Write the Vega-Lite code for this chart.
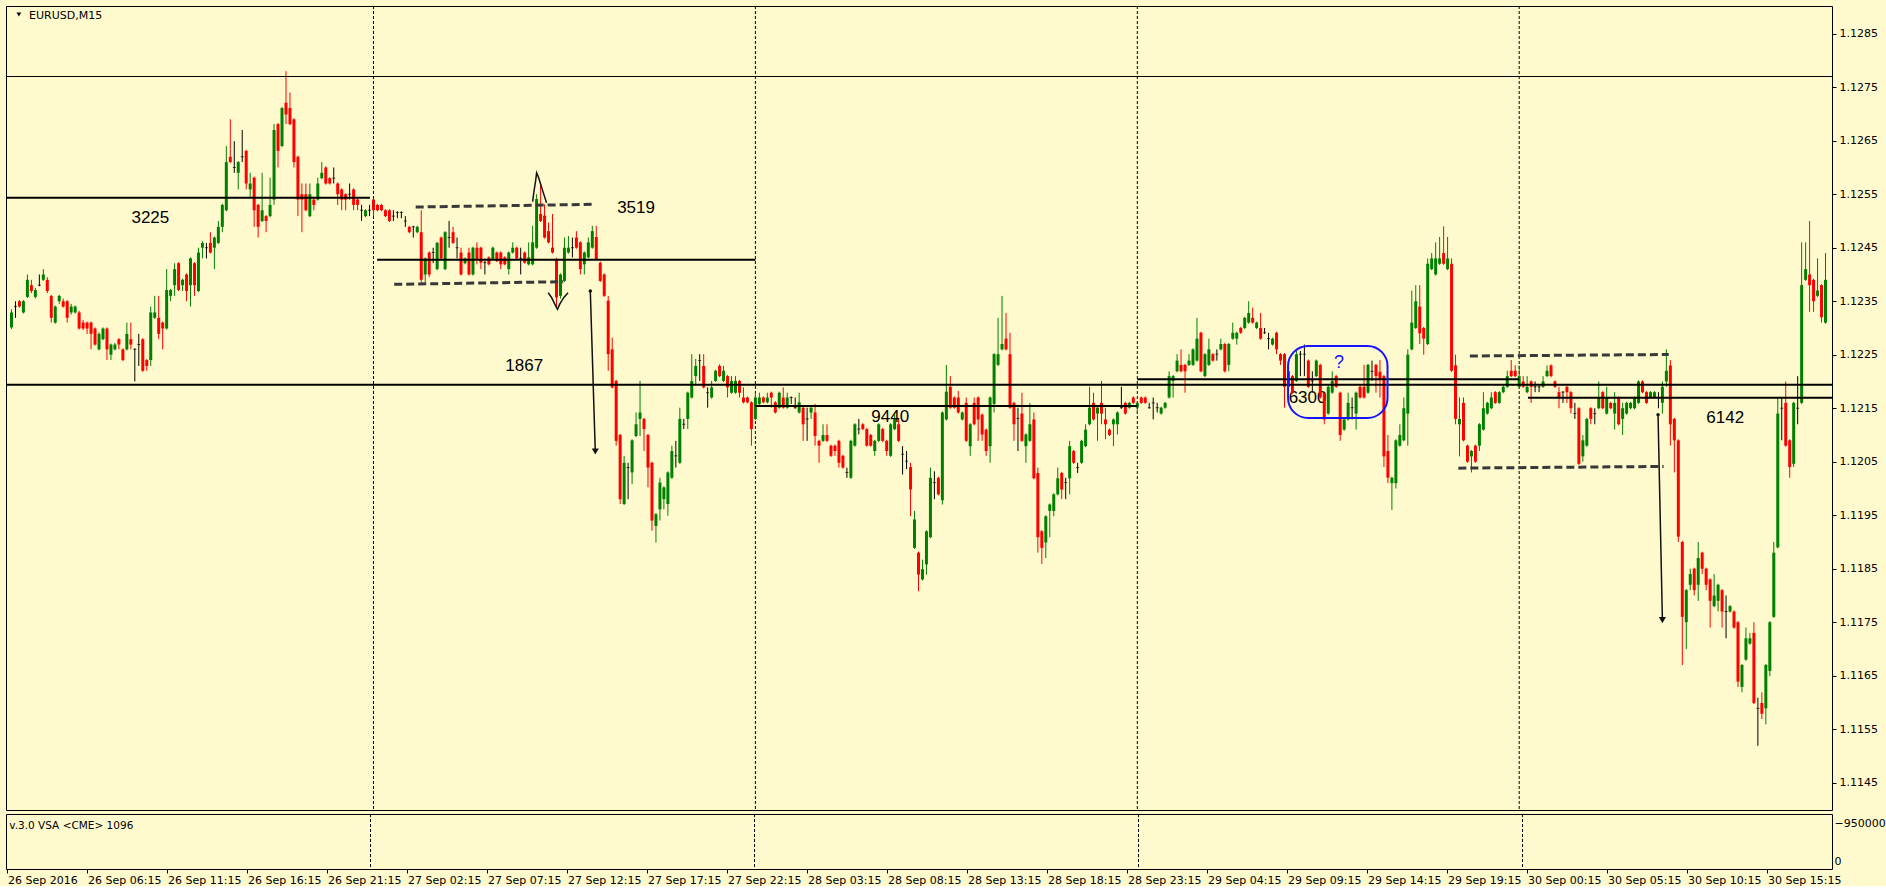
{
"$schema": "https://vega.github.io/schema/vega-lite/v6.json",
"background": "#FFFACD",
"padding": {"left": 5, "top": 5, "right": 0, "bottom": 0},
"autosize": {"type": "pad"},
"spacing": 2,
"config": {
  "view": {"stroke": "#000000", "strokeWidth": 1},
  "font": "DejaVu Sans",
  "axis": {"labelFont": "DejaVu Sans", "labelFontSize": 11, "labelColor": "#000000", "tickColor": "#000000", "domain": false, "grid": false}
},
"datasets": {
"bars": [
{"i":0,"o":1.12301,"h":1.12335,"l":1.12298,"c":1.12329},
{"i":1,"o":1.12340,"h":1.12350,"l":1.12319,"c":1.12340},
{"i":2,"o":1.12350,"h":1.12352,"l":1.12338,"c":1.12340},
{"i":3,"o":1.12329,"h":1.12352,"l":1.12327,"c":1.12350},
{"i":4,"o":1.12358,"h":1.12400,"l":1.12356,"c":1.12390},
{"i":5,"o":1.12380,"h":1.12390,"l":1.12365,"c":1.12369},
{"i":6,"o":1.12358,"h":1.12375,"l":1.12355,"c":1.12371},
{"i":7,"o":1.12380,"h":1.12400,"l":1.12378,"c":1.12380},
{"i":8,"o":1.12390,"h":1.12410,"l":1.12388,"c":1.12400},
{"i":9,"o":1.12390,"h":1.12395,"l":1.12365,"c":1.12369},
{"i":10,"o":1.12360,"h":1.12362,"l":1.12310,"c":1.12319},
{"i":11,"o":1.12310,"h":1.12342,"l":1.12308,"c":1.12340},
{"i":12,"o":1.12350,"h":1.12362,"l":1.12345,"c":1.12360},
{"i":13,"o":1.12350,"h":1.12355,"l":1.12338,"c":1.12340},
{"i":14,"o":1.12350,"h":1.12352,"l":1.12310,"c":1.12319},
{"i":15,"o":1.12329,"h":1.12345,"l":1.12325,"c":1.12340},
{"i":16,"o":1.12329,"h":1.12342,"l":1.12327,"c":1.12340},
{"i":17,"o":1.12329,"h":1.12332,"l":1.12297,"c":1.12299},
{"i":18,"o":1.12310,"h":1.12315,"l":1.12296,"c":1.12299},
{"i":19,"o":1.12310,"h":1.12312,"l":1.12289,"c":1.12299},
{"i":20,"o":1.12310,"h":1.12312,"l":1.12260,"c":1.12289},
{"i":21,"o":1.12299,"h":1.12301,"l":1.12267,"c":1.12269},
{"i":22,"o":1.12260,"h":1.12292,"l":1.12258,"c":1.12289},
{"i":23,"o":1.12279,"h":1.12301,"l":1.12277,"c":1.12299},
{"i":24,"o":1.12299,"h":1.12301,"l":1.12240,"c":1.12260},
{"i":25,"o":1.12250,"h":1.12271,"l":1.12240,"c":1.12269},
{"i":26,"o":1.12260,"h":1.12272,"l":1.12258,"c":1.12269},
{"i":27,"o":1.12279,"h":1.12281,"l":1.12260,"c":1.12269},
{"i":28,"o":1.12260,"h":1.12262,"l":1.12238,"c":1.12240},
{"i":29,"o":1.12260,"h":1.12310,"l":1.12258,"c":1.12289},
{"i":30,"o":1.12279,"h":1.12310,"l":1.12260,"c":1.12269},
{"i":31,"o":1.12260,"h":1.12262,"l":1.12200,"c":1.12260},
{"i":32,"o":1.12269,"h":1.12289,"l":1.12229,"c":1.12269},
{"i":33,"o":1.12279,"h":1.12281,"l":1.12218,"c":1.12220},
{"i":34,"o":1.12240,"h":1.12242,"l":1.12220,"c":1.12229},
{"i":35,"o":1.12240,"h":1.12340,"l":1.12229,"c":1.12329},
{"i":36,"o":1.12319,"h":1.12360,"l":1.12317,"c":1.12329},
{"i":37,"o":1.12319,"h":1.12360,"l":1.12279,"c":1.12289},
{"i":38,"o":1.12310,"h":1.12312,"l":1.12260,"c":1.12299},
{"i":39,"o":1.12299,"h":1.12410,"l":1.12297,"c":1.12371},
{"i":40,"o":1.12360,"h":1.12373,"l":1.12350,"c":1.12371},
{"i":41,"o":1.12380,"h":1.12421,"l":1.12360,"c":1.12410},
{"i":42,"o":1.12421,"h":1.12423,"l":1.12369,"c":1.12371},
{"i":43,"o":1.12380,"h":1.12392,"l":1.12369,"c":1.12390},
{"i":44,"o":1.12400,"h":1.12402,"l":1.12350,"c":1.12369},
{"i":45,"o":1.12380,"h":1.12432,"l":1.12340,"c":1.12430},
{"i":46,"o":1.12421,"h":1.12423,"l":1.12360,"c":1.12380},
{"i":47,"o":1.12369,"h":1.12450,"l":1.12367,"c":1.12441},
{"i":48,"o":1.12450,"h":1.12462,"l":1.12430,"c":1.12459},
{"i":49,"o":1.12450,"h":1.12459,"l":1.12430,"c":1.12450},
{"i":50,"o":1.12459,"h":1.12479,"l":1.12439,"c":1.12441},
{"i":51,"o":1.12450,"h":1.12471,"l":1.12410,"c":1.12469},
{"i":52,"o":1.12459,"h":1.12500,"l":1.12457,"c":1.12489},
{"i":53,"o":1.12489,"h":1.12532,"l":1.12479,"c":1.12530},
{"i":54,"o":1.12520,"h":1.12640,"l":1.12518,"c":1.12610},
{"i":55,"o":1.12620,"h":1.12690,"l":1.12608,"c":1.12610},
{"i":56,"o":1.12600,"h":1.12649,"l":1.12590,"c":1.12600},
{"i":57,"o":1.12590,"h":1.12612,"l":1.12559,"c":1.12610},
{"i":58,"o":1.12620,"h":1.12670,"l":1.12610,"c":1.12620},
{"i":59,"o":1.12631,"h":1.12633,"l":1.12559,"c":1.12570},
{"i":60,"o":1.12559,"h":1.12590,"l":1.12544,"c":1.12570},
{"i":61,"o":1.12581,"h":1.12583,"l":1.12489,"c":1.12520},
{"i":62,"o":1.12530,"h":1.12532,"l":1.12469,"c":1.12489},
{"i":63,"o":1.12500,"h":1.12590,"l":1.12498,"c":1.12520},
{"i":64,"o":1.12509,"h":1.12511,"l":1.12479,"c":1.12500},
{"i":65,"o":1.12509,"h":1.12581,"l":1.12507,"c":1.12530},
{"i":66,"o":1.12540,"h":1.12681,"l":1.12530,"c":1.12670},
{"i":67,"o":1.12681,"h":1.12683,"l":1.12600,"c":1.12631},
{"i":68,"o":1.12640,"h":1.12713,"l":1.12638,"c":1.12711},
{"i":69,"o":1.12721,"h":1.12780,"l":1.12681,"c":1.12699},
{"i":70,"o":1.12711,"h":1.12740,"l":1.12679,"c":1.12681},
{"i":71,"o":1.12690,"h":1.12692,"l":1.12600,"c":1.12610},
{"i":72,"o":1.12620,"h":1.12622,"l":1.12509,"c":1.12540},
{"i":73,"o":1.12550,"h":1.12570,"l":1.12479,"c":1.12540},
{"i":74,"o":1.12550,"h":1.12570,"l":1.12518,"c":1.12520},
{"i":75,"o":1.12509,"h":1.12570,"l":1.12507,"c":1.12550},
{"i":76,"o":1.12540,"h":1.12545,"l":1.12520,"c":1.12530},
{"i":77,"o":1.12540,"h":1.12581,"l":1.12538,"c":1.12570},
{"i":78,"o":1.12580,"h":1.12610,"l":1.12578,"c":1.12590},
{"i":79,"o":1.12600,"h":1.12602,"l":1.12568,"c":1.12570},
{"i":80,"o":1.12580,"h":1.12582,"l":1.12568,"c":1.12570},
{"i":81,"o":1.12580,"h":1.12600,"l":1.12570,"c":1.12580},
{"i":82,"o":1.12570,"h":1.12572,"l":1.12530,"c":1.12550},
{"i":83,"o":1.12559,"h":1.12561,"l":1.12520,"c":1.12540},
{"i":84,"o":1.12550,"h":1.12552,"l":1.12520,"c":1.12540},
{"i":85,"o":1.12550,"h":1.12570,"l":1.12540,"c":1.12550},
{"i":86,"o":1.12559,"h":1.12561,"l":1.12520,"c":1.12530},
{"i":87,"o":1.12540,"h":1.12542,"l":1.12520,"c":1.12530},
{"i":88,"o":1.12520,"h":1.12530,"l":1.12500,"c":1.12520},
{"i":89,"o":1.12509,"h":1.12522,"l":1.12507,"c":1.12520},
{"i":90,"o":1.12520,"h":1.12530,"l":1.12509,"c":1.12520},
{"i":91,"o":1.12540,"h":1.12542,"l":1.12509,"c":1.12520},
{"i":92,"o":1.12530,"h":1.12532,"l":1.12518,"c":1.12520},
{"i":93,"o":1.12530,"h":1.12532,"l":1.12518,"c":1.12520},
{"i":94,"o":1.12520,"h":1.12522,"l":1.12507,"c":1.12509},
{"i":95,"o":1.12520,"h":1.12522,"l":1.12498,"c":1.12500},
{"i":96,"o":1.12509,"h":1.12520,"l":1.12500,"c":1.12509},
{"i":97,"o":1.12516,"h":1.12518,"l":1.12505,"c":1.12516},
{"i":98,"o":1.12516,"h":1.12518,"l":1.12505,"c":1.12516},
{"i":99,"o":1.12500,"h":1.12509,"l":1.12489,"c":1.12500},
{"i":100,"o":1.12489,"h":1.12491,"l":1.12477,"c":1.12479},
{"i":101,"o":1.12489,"h":1.12491,"l":1.12469,"c":1.12489},
{"i":102,"o":1.12479,"h":1.12491,"l":1.12477,"c":1.12489},
{"i":103,"o":1.12479,"h":1.12520,"l":1.12385,"c":1.12390},
{"i":104,"o":1.12400,"h":1.12432,"l":1.12385,"c":1.12430},
{"i":105,"o":1.12441,"h":1.12443,"l":1.12395,"c":1.12400},
{"i":106,"o":1.12441,"h":1.12450,"l":1.12421,"c":1.12441},
{"i":107,"o":1.12410,"h":1.12461,"l":1.12408,"c":1.12459},
{"i":108,"o":1.12469,"h":1.12471,"l":1.12428,"c":1.12430},
{"i":109,"o":1.12410,"h":1.12481,"l":1.12408,"c":1.12479},
{"i":110,"o":1.12469,"h":1.12500,"l":1.12450,"c":1.12469},
{"i":111,"o":1.12479,"h":1.12489,"l":1.12457,"c":1.12459},
{"i":112,"o":1.12450,"h":1.12469,"l":1.12430,"c":1.12450},
{"i":113,"o":1.12441,"h":1.12450,"l":1.12398,"c":1.12400},
{"i":114,"o":1.12421,"h":1.12432,"l":1.12419,"c":1.12430},
{"i":115,"o":1.12441,"h":1.12450,"l":1.12398,"c":1.12400},
{"i":116,"o":1.12400,"h":1.12452,"l":1.12398,"c":1.12450},
{"i":117,"o":1.12450,"h":1.12460,"l":1.12419,"c":1.12429},
{"i":118,"o":1.12450,"h":1.12452,"l":1.12410,"c":1.12422},
{"i":119,"o":1.12422,"h":1.12430,"l":1.12400,"c":1.12422},
{"i":120,"o":1.12432,"h":1.12434,"l":1.12417,"c":1.12419},
{"i":121,"o":1.12429,"h":1.12452,"l":1.12427,"c":1.12450},
{"i":122,"o":1.12441,"h":1.12443,"l":1.12423,"c":1.12425},
{"i":123,"o":1.12441,"h":1.12443,"l":1.12410,"c":1.12419},
{"i":124,"o":1.12432,"h":1.12434,"l":1.12417,"c":1.12419},
{"i":125,"o":1.12410,"h":1.12443,"l":1.12400,"c":1.12441},
{"i":126,"o":1.12441,"h":1.12460,"l":1.12439,"c":1.12450},
{"i":127,"o":1.12450,"h":1.12452,"l":1.12428,"c":1.12430},
{"i":128,"o":1.12430,"h":1.12450,"l":1.12400,"c":1.12430},
{"i":129,"o":1.12441,"h":1.12443,"l":1.12420,"c":1.12422},
{"i":130,"o":1.12419,"h":1.12460,"l":1.12417,"c":1.12432},
{"i":131,"o":1.12419,"h":1.12491,"l":1.12417,"c":1.12460},
{"i":132,"o":1.12450,"h":1.12550,"l":1.12448,"c":1.12541},
{"i":133,"o":1.12513,"h":1.12569,"l":1.12498,"c":1.12500},
{"i":134,"o":1.12510,"h":1.12531,"l":1.12467,"c":1.12469},
{"i":135,"o":1.12481,"h":1.12497,"l":1.12458,"c":1.12460},
{"i":136,"o":1.12450,"h":1.12513,"l":1.12439,"c":1.12441},
{"i":137,"o":1.12429,"h":1.12431,"l":1.12338,"c":1.12357},
{"i":138,"o":1.12360,"h":1.12402,"l":1.12355,"c":1.12400},
{"i":139,"o":1.12388,"h":1.12469,"l":1.12386,"c":1.12450},
{"i":140,"o":1.12441,"h":1.12472,"l":1.12439,"c":1.12450},
{"i":141,"o":1.12450,"h":1.12469,"l":1.12432,"c":1.12450},
{"i":142,"o":1.12469,"h":1.12481,"l":1.12448,"c":1.12450},
{"i":143,"o":1.12460,"h":1.12462,"l":1.12400,"c":1.12410},
{"i":144,"o":1.12419,"h":1.12443,"l":1.12400,"c":1.12441},
{"i":145,"o":1.12432,"h":1.12469,"l":1.12430,"c":1.12460},
{"i":146,"o":1.12450,"h":1.12491,"l":1.12448,"c":1.12481},
{"i":147,"o":1.12470,"h":1.12491,"l":1.12427,"c":1.12429},
{"i":148,"o":1.12422,"h":1.12424,"l":1.12386,"c":1.12388},
{"i":149,"o":1.12400,"h":1.12402,"l":1.12358,"c":1.12360},
{"i":150,"o":1.12351,"h":1.12360,"l":1.12220,"c":1.12251},
{"i":151,"o":1.12260,"h":1.12282,"l":1.12187,"c":1.12189},
{"i":152,"o":1.12201,"h":1.12203,"l":1.12080,"c":1.12089},
{"i":153,"o":1.12100,"h":1.12102,"l":1.11971,"c":1.11980},
{"i":154,"o":1.11971,"h":1.12061,"l":1.11969,"c":1.12048},
{"i":155,"o":1.12039,"h":1.12048,"l":1.11980,"c":1.12039},
{"i":156,"o":1.12030,"h":1.12092,"l":1.12008,"c":1.12090},
{"i":157,"o":1.12098,"h":1.12142,"l":1.12096,"c":1.12120},
{"i":158,"o":1.12130,"h":1.12201,"l":1.12098,"c":1.12142},
{"i":159,"o":1.12130,"h":1.12132,"l":1.12070,"c":1.12111},
{"i":160,"o":1.12100,"h":1.12102,"l":1.12002,"c":1.12039},
{"i":161,"o":1.12048,"h":1.12050,"l":1.11921,"c":1.11940},
{"i":162,"o":1.11930,"h":1.11954,"l":1.11899,"c":1.11952},
{"i":163,"o":1.11961,"h":1.12020,"l":1.11940,"c":1.12011},
{"i":164,"o":1.11980,"h":1.12004,"l":1.11961,"c":1.12002},
{"i":165,"o":1.11971,"h":1.12032,"l":1.11949,"c":1.12030},
{"i":166,"o":1.12020,"h":1.12080,"l":1.12018,"c":1.12070},
{"i":167,"o":1.12061,"h":1.12089,"l":1.12039,"c":1.12061},
{"i":168,"o":1.12048,"h":1.12151,"l":1.12046,"c":1.12130},
{"i":169,"o":1.12120,"h":1.12130,"l":1.12111,"c":1.12120},
{"i":170,"o":1.12130,"h":1.12181,"l":1.12111,"c":1.12179},
{"i":171,"o":1.12170,"h":1.12251,"l":1.12168,"c":1.12201},
{"i":172,"o":1.12210,"h":1.12242,"l":1.12195,"c":1.12229},
{"i":173,"o":1.12239,"h":1.12251,"l":1.12201,"c":1.12239},
{"i":174,"o":1.12229,"h":1.12251,"l":1.12187,"c":1.12189},
{"i":175,"o":1.12179,"h":1.12189,"l":1.12151,"c":1.12179},
{"i":176,"o":1.12170,"h":1.12201,"l":1.12168,"c":1.12189},
{"i":177,"o":1.12201,"h":1.12222,"l":1.12199,"c":1.12220},
{"i":178,"o":1.12229,"h":1.12232,"l":1.12208,"c":1.12210},
{"i":179,"o":1.12201,"h":1.12229,"l":1.12199,"c":1.12220},
{"i":180,"o":1.12210,"h":1.12212,"l":1.12170,"c":1.12189},
{"i":181,"o":1.12179,"h":1.12210,"l":1.12177,"c":1.12201},
{"i":182,"o":1.12179,"h":1.12210,"l":1.12177,"c":1.12201},
{"i":183,"o":1.12201,"h":1.12203,"l":1.12170,"c":1.12179},
{"i":184,"o":1.12170,"h":1.12189,"l":1.12159,"c":1.12161},
{"i":185,"o":1.12170,"h":1.12172,"l":1.12159,"c":1.12161},
{"i":186,"o":1.12161,"h":1.12163,"l":1.12080,"c":1.12111},
{"i":187,"o":1.12130,"h":1.12179,"l":1.12128,"c":1.12170},
{"i":188,"o":1.12158,"h":1.12179,"l":1.12156,"c":1.12170},
{"i":189,"o":1.12170,"h":1.12172,"l":1.12159,"c":1.12161},
{"i":190,"o":1.12161,"h":1.12179,"l":1.12159,"c":1.12170},
{"i":191,"o":1.12179,"h":1.12181,"l":1.12151,"c":1.12170},
{"i":192,"o":1.12161,"h":1.12163,"l":1.12140,"c":1.12142},
{"i":193,"o":1.12151,"h":1.12181,"l":1.12149,"c":1.12179},
{"i":194,"o":1.12170,"h":1.12189,"l":1.12149,"c":1.12151},
{"i":195,"o":1.12151,"h":1.12179,"l":1.12149,"c":1.12170},
{"i":196,"o":1.12170,"h":1.12172,"l":1.12158,"c":1.12170},
{"i":197,"o":1.12151,"h":1.12170,"l":1.12149,"c":1.12151},
{"i":198,"o":1.12142,"h":1.12179,"l":1.12140,"c":1.12161},
{"i":199,"o":1.12151,"h":1.12153,"l":1.12089,"c":1.12120},
{"i":200,"o":1.12130,"h":1.12151,"l":1.12089,"c":1.12130},
{"i":201,"o":1.12142,"h":1.12153,"l":1.12130,"c":1.12151},
{"i":202,"o":1.12142,"h":1.12158,"l":1.12080,"c":1.12098},
{"i":203,"o":1.12089,"h":1.12091,"l":1.12048,"c":1.12080},
{"i":204,"o":1.12089,"h":1.12120,"l":1.12087,"c":1.12100},
{"i":205,"o":1.12100,"h":1.12120,"l":1.12087,"c":1.12089},
{"i":206,"o":1.12080,"h":1.12082,"l":1.12059,"c":1.12061},
{"i":207,"o":1.12080,"h":1.12082,"l":1.12061,"c":1.12070},
{"i":208,"o":1.12089,"h":1.12091,"l":1.12039,"c":1.12048},
{"i":209,"o":1.12061,"h":1.12063,"l":1.12037,"c":1.12039},
{"i":210,"o":1.12030,"h":1.12039,"l":1.12020,"c":1.12030},
{"i":211,"o":1.12020,"h":1.12091,"l":1.12018,"c":1.12089},
{"i":212,"o":1.12080,"h":1.12122,"l":1.12078,"c":1.12120},
{"i":213,"o":1.12111,"h":1.12130,"l":1.12101,"c":1.12111},
{"i":214,"o":1.12120,"h":1.12122,"l":1.12109,"c":1.12111},
{"i":215,"o":1.12111,"h":1.12113,"l":1.12078,"c":1.12080},
{"i":216,"o":1.12100,"h":1.12102,"l":1.12078,"c":1.12080},
{"i":217,"o":1.12070,"h":1.12091,"l":1.12061,"c":1.12089},
{"i":218,"o":1.12089,"h":1.12122,"l":1.12087,"c":1.12120},
{"i":219,"o":1.12111,"h":1.12113,"l":1.12087,"c":1.12089},
{"i":220,"o":1.12089,"h":1.12091,"l":1.12061,"c":1.12070},
{"i":221,"o":1.12061,"h":1.12122,"l":1.12059,"c":1.12120},
{"i":222,"o":1.12111,"h":1.12142,"l":1.12109,"c":1.12130},
{"i":223,"o":1.12120,"h":1.12130,"l":1.12087,"c":1.12089},
{"i":224,"o":1.12064,"h":1.12079,"l":1.12026,"c":1.12064},
{"i":225,"o":1.12051,"h":1.12070,"l":1.12036,"c":1.12051},
{"i":226,"o":1.12040,"h":1.12048,"l":1.11948,"c":1.11998},
{"i":227,"o":1.11889,"h":1.11958,"l":1.11887,"c":1.11942},
{"i":228,"o":1.11880,"h":1.11882,"l":1.11808,"c":1.11839},
{"i":229,"o":1.11830,"h":1.11867,"l":1.11828,"c":1.11849},
{"i":230,"o":1.11858,"h":1.11922,"l":1.11839,"c":1.11920},
{"i":231,"o":1.11909,"h":1.12039,"l":1.11907,"c":1.12020},
{"i":232,"o":1.12011,"h":1.12032,"l":1.11980,"c":1.12011},
{"i":233,"o":1.12020,"h":1.12022,"l":1.11987,"c":1.11989},
{"i":234,"o":1.11978,"h":1.12144,"l":1.11970,"c":1.12142},
{"i":235,"o":1.12129,"h":1.12231,"l":1.12127,"c":1.12181},
{"i":236,"o":1.12190,"h":1.12210,"l":1.12149,"c":1.12151},
{"i":237,"o":1.12170,"h":1.12172,"l":1.12149,"c":1.12151},
{"i":238,"o":1.12170,"h":1.12182,"l":1.12140,"c":1.12142},
{"i":239,"o":1.12129,"h":1.12144,"l":1.12127,"c":1.12142},
{"i":240,"o":1.12160,"h":1.12170,"l":1.12087,"c":1.12089},
{"i":241,"o":1.12079,"h":1.12122,"l":1.12061,"c":1.12120},
{"i":242,"o":1.12160,"h":1.12170,"l":1.12118,"c":1.12120},
{"i":243,"o":1.12170,"h":1.12172,"l":1.12089,"c":1.12129},
{"i":244,"o":1.12138,"h":1.12140,"l":1.12089,"c":1.12101},
{"i":245,"o":1.12110,"h":1.12112,"l":1.12061,"c":1.12070},
{"i":246,"o":1.12079,"h":1.12172,"l":1.12048,"c":1.12170},
{"i":247,"o":1.12158,"h":1.12253,"l":1.12142,"c":1.12251},
{"i":248,"o":1.12231,"h":1.12319,"l":1.12229,"c":1.12251},
{"i":249,"o":1.12260,"h":1.12360,"l":1.12258,"c":1.12270},
{"i":250,"o":1.12280,"h":1.12328,"l":1.12258,"c":1.12260},
{"i":251,"o":1.12251,"h":1.12291,"l":1.12149,"c":1.12151},
{"i":252,"o":1.12160,"h":1.12162,"l":1.12089,"c":1.12120},
{"i":253,"o":1.12131,"h":1.12151,"l":1.12070,"c":1.12131},
{"i":254,"o":1.12140,"h":1.12179,"l":1.12087,"c":1.12089},
{"i":255,"o":1.12079,"h":1.12103,"l":1.12048,"c":1.12101},
{"i":256,"o":1.12089,"h":1.12160,"l":1.12087,"c":1.12120},
{"i":257,"o":1.12129,"h":1.12142,"l":1.12017,"c":1.12019},
{"i":258,"o":1.12029,"h":1.12039,"l":1.11880,"c":1.11909},
{"i":259,"o":1.11920,"h":1.11922,"l":1.11859,"c":1.11889},
{"i":260,"o":1.11899,"h":1.11950,"l":1.11870,"c":1.11948},
{"i":261,"o":1.11958,"h":1.11972,"l":1.11909,"c":1.11970},
{"i":262,"o":1.11958,"h":1.11991,"l":1.11948,"c":1.11989},
{"i":263,"o":1.11989,"h":1.12039,"l":1.11987,"c":1.12019},
{"i":264,"o":1.12029,"h":1.12031,"l":1.11980,"c":1.11998},
{"i":265,"o":1.12011,"h":1.12020,"l":1.11980,"c":1.12011},
{"i":266,"o":1.12019,"h":1.12089,"l":1.11989,"c":1.12079},
{"i":267,"o":1.12070,"h":1.12072,"l":1.12046,"c":1.12048},
{"i":268,"o":1.12039,"h":1.12048,"l":1.12029,"c":1.12039},
{"i":269,"o":1.12048,"h":1.12091,"l":1.12046,"c":1.12089},
{"i":270,"o":1.12079,"h":1.12120,"l":1.12077,"c":1.12110},
{"i":271,"o":1.12120,"h":1.12190,"l":1.12118,"c":1.12151},
{"i":272,"o":1.12160,"h":1.12179,"l":1.12127,"c":1.12129},
{"i":273,"o":1.12140,"h":1.12153,"l":1.12089,"c":1.12151},
{"i":274,"o":1.12160,"h":1.12201,"l":1.12120,"c":1.12140},
{"i":275,"o":1.12129,"h":1.12151,"l":1.12092,"c":1.12120},
{"i":276,"o":1.12110,"h":1.12112,"l":1.12098,"c":1.12100},
{"i":277,"o":1.12120,"h":1.12131,"l":1.12079,"c":1.12129},
{"i":278,"o":1.12120,"h":1.12144,"l":1.12101,"c":1.12142},
{"i":279,"o":1.12151,"h":1.12190,"l":1.12149,"c":1.12151},
{"i":280,"o":1.12160,"h":1.12162,"l":1.12138,"c":1.12140},
{"i":281,"o":1.12151,"h":1.12162,"l":1.12149,"c":1.12160},
{"i":282,"o":1.12170,"h":1.12172,"l":1.12158,"c":1.12160},
{"i":283,"o":1.12151,"h":1.12162,"l":1.12140,"c":1.12160},
{"i":284,"o":1.12170,"h":1.12172,"l":1.12158,"c":1.12160},
{"i":285,"o":1.12170,"h":1.12172,"l":1.12158,"c":1.12160},
{"i":286,"o":1.12151,"h":1.12160,"l":1.12149,"c":1.12151},
{"i":287,"o":1.12160,"h":1.12170,"l":1.12129,"c":1.12160},
{"i":288,"o":1.12151,"h":1.12160,"l":1.12142,"c":1.12151},
{"i":289,"o":1.12140,"h":1.12153,"l":1.12138,"c":1.12151},
{"i":290,"o":1.12151,"h":1.12162,"l":1.12149,"c":1.12160},
{"i":291,"o":1.12170,"h":1.12219,"l":1.12168,"c":1.12210},
{"i":292,"o":1.12201,"h":1.12212,"l":1.12170,"c":1.12210},
{"i":293,"o":1.12219,"h":1.12251,"l":1.12217,"c":1.12239},
{"i":294,"o":1.12231,"h":1.12260,"l":1.12217,"c":1.12219},
{"i":295,"o":1.12231,"h":1.12233,"l":1.12179,"c":1.12219},
{"i":296,"o":1.12231,"h":1.12251,"l":1.12229,"c":1.12239},
{"i":297,"o":1.12231,"h":1.12262,"l":1.12229,"c":1.12260},
{"i":298,"o":1.12239,"h":1.12319,"l":1.12237,"c":1.12280},
{"i":299,"o":1.12291,"h":1.12293,"l":1.12217,"c":1.12219},
{"i":300,"o":1.12210,"h":1.12253,"l":1.12208,"c":1.12251},
{"i":301,"o":1.12231,"h":1.12280,"l":1.12229,"c":1.12260},
{"i":302,"o":1.12251,"h":1.12253,"l":1.12237,"c":1.12239},
{"i":303,"o":1.12251,"h":1.12260,"l":1.12239,"c":1.12251},
{"i":304,"o":1.12260,"h":1.12280,"l":1.12258,"c":1.12270},
{"i":305,"o":1.12270,"h":1.12272,"l":1.12217,"c":1.12219},
{"i":306,"o":1.12231,"h":1.12272,"l":1.12219,"c":1.12270},
{"i":307,"o":1.12280,"h":1.12310,"l":1.12278,"c":1.12291},
{"i":308,"o":1.12280,"h":1.12293,"l":1.12269,"c":1.12291},
{"i":309,"o":1.12300,"h":1.12302,"l":1.12289,"c":1.12291},
{"i":310,"o":1.12300,"h":1.12321,"l":1.12298,"c":1.12319},
{"i":311,"o":1.12310,"h":1.12350,"l":1.12308,"c":1.12328},
{"i":312,"o":1.12319,"h":1.12338,"l":1.12308,"c":1.12310},
{"i":313,"o":1.12300,"h":1.12312,"l":1.12298,"c":1.12310},
{"i":314,"o":1.12300,"h":1.12328,"l":1.12278,"c":1.12280},
{"i":315,"o":1.12291,"h":1.12300,"l":1.12289,"c":1.12291},
{"i":316,"o":1.12280,"h":1.12291,"l":1.12260,"c":1.12280},
{"i":317,"o":1.12269,"h":1.12282,"l":1.12267,"c":1.12280},
{"i":318,"o":1.12291,"h":1.12293,"l":1.12251,"c":1.12260},
{"i":319,"o":1.12251,"h":1.12253,"l":1.12231,"c":1.12239},
{"i":320,"o":1.12251,"h":1.12253,"l":1.12151,"c":1.12190},
{"i":321,"o":1.12219,"h":1.12221,"l":1.12188,"c":1.12190},
{"i":322,"o":1.12210,"h":1.12212,"l":1.12177,"c":1.12179},
{"i":323,"o":1.12201,"h":1.12257,"l":1.12199,"c":1.12251},
{"i":324,"o":1.12251,"h":1.12257,"l":1.12210,"c":1.12251},
{"i":325,"o":1.12251,"h":1.12269,"l":1.12210,"c":1.12251},
{"i":326,"o":1.12239,"h":1.12241,"l":1.12188,"c":1.12190},
{"i":327,"o":1.12201,"h":1.12219,"l":1.12179,"c":1.12201},
{"i":328,"o":1.12210,"h":1.12241,"l":1.12208,"c":1.12239},
{"i":329,"o":1.12231,"h":1.12233,"l":1.12168,"c":1.12170},
{"i":330,"o":1.12179,"h":1.12181,"l":1.12120,"c":1.12129},
{"i":331,"o":1.12140,"h":1.12192,"l":1.12138,"c":1.12190},
{"i":332,"o":1.12179,"h":1.12219,"l":1.12177,"c":1.12201},
{"i":333,"o":1.12210,"h":1.12212,"l":1.12188,"c":1.12190},
{"i":334,"o":1.12179,"h":1.12181,"l":1.12089,"c":1.12100},
{"i":335,"o":1.12110,"h":1.12131,"l":1.12108,"c":1.12129},
{"i":336,"o":1.12129,"h":1.12179,"l":1.12127,"c":1.12160},
{"i":337,"o":1.12151,"h":1.12170,"l":1.12129,"c":1.12151},
{"i":338,"o":1.12140,"h":1.12181,"l":1.12110,"c":1.12179},
{"i":339,"o":1.12190,"h":1.12192,"l":1.12168,"c":1.12170},
{"i":340,"o":1.12190,"h":1.12231,"l":1.12168,"c":1.12170},
{"i":341,"o":1.12179,"h":1.12233,"l":1.12177,"c":1.12231},
{"i":342,"o":1.12219,"h":1.12239,"l":1.12201,"c":1.12219},
{"i":343,"o":1.12231,"h":1.12233,"l":1.12179,"c":1.12210},
{"i":344,"o":1.12218,"h":1.12240,"l":1.12170,"c":1.12203},
{"i":345,"o":1.12210,"h":1.12212,"l":1.12040,"c":1.12060},
{"i":346,"o":1.12070,"h":1.12100,"l":1.12010,"c":1.12020},
{"i":347,"o":1.12010,"h":1.12022,"l":1.11960,"c":1.12020},
{"i":348,"o":1.12010,"h":1.12092,"l":1.12000,"c":1.12090},
{"i":349,"o":1.12080,"h":1.12120,"l":1.12078,"c":1.12100},
{"i":350,"o":1.12090,"h":1.12170,"l":1.12088,"c":1.12150},
{"i":351,"o":1.12140,"h":1.12260,"l":1.12080,"c":1.12250},
{"i":352,"o":1.12260,"h":1.12370,"l":1.12258,"c":1.12310},
{"i":353,"o":1.12300,"h":1.12380,"l":1.12298,"c":1.12350},
{"i":354,"o":1.12340,"h":1.12380,"l":1.12270,"c":1.12290},
{"i":355,"o":1.12300,"h":1.12302,"l":1.12250,"c":1.12280},
{"i":356,"o":1.12270,"h":1.12430,"l":1.12268,"c":1.12420},
{"i":357,"o":1.12410,"h":1.12440,"l":1.12408,"c":1.12430},
{"i":358,"o":1.12400,"h":1.12460,"l":1.12398,"c":1.12430},
{"i":359,"o":1.12420,"h":1.12470,"l":1.12418,"c":1.12430},
{"i":360,"o":1.12440,"h":1.12490,"l":1.12418,"c":1.12420},
{"i":361,"o":1.12410,"h":1.12470,"l":1.12408,"c":1.12430},
{"i":362,"o":1.12420,"h":1.12430,"l":1.12218,"c":1.12220},
{"i":363,"o":1.12230,"h":1.12250,"l":1.12120,"c":1.12130},
{"i":364,"o":1.12120,"h":1.12170,"l":1.12060,"c":1.12130},
{"i":365,"o":1.12160,"h":1.12170,"l":1.12088,"c":1.12090},
{"i":366,"o":1.12080,"h":1.12082,"l":1.12048,"c":1.12050},
{"i":367,"o":1.12060,"h":1.12072,"l":1.12030,"c":1.12070},
{"i":368,"o":1.12080,"h":1.12082,"l":1.12048,"c":1.12050},
{"i":369,"o":1.12080,"h":1.12122,"l":1.12070,"c":1.12120},
{"i":370,"o":1.12110,"h":1.12180,"l":1.12108,"c":1.12150},
{"i":371,"o":1.12140,"h":1.12162,"l":1.12138,"c":1.12160},
{"i":372,"o":1.12150,"h":1.12180,"l":1.12148,"c":1.12170},
{"i":373,"o":1.12180,"h":1.12182,"l":1.12158,"c":1.12160},
{"i":374,"o":1.12160,"h":1.12182,"l":1.12158,"c":1.12180},
{"i":375,"o":1.12180,"h":1.12192,"l":1.12178,"c":1.12190},
{"i":376,"o":1.12190,"h":1.12220,"l":1.12188,"c":1.12210},
{"i":377,"o":1.12220,"h":1.12240,"l":1.12208,"c":1.12210},
{"i":378,"o":1.12220,"h":1.12230,"l":1.12208,"c":1.12210},
{"i":379,"o":1.12190,"h":1.12230,"l":1.12188,"c":1.12210},
{"i":380,"o":1.12200,"h":1.12210,"l":1.12188,"c":1.12190},
{"i":381,"o":1.12180,"h":1.12210,"l":1.12178,"c":1.12190},
{"i":382,"o":1.12200,"h":1.12202,"l":1.12160,"c":1.12190},
{"i":383,"o":1.12190,"h":1.12200,"l":1.12180,"c":1.12190},
{"i":384,"o":1.12190,"h":1.12192,"l":1.12180,"c":1.12190},
{"i":385,"o":1.12190,"h":1.12210,"l":1.12188,"c":1.12200},
{"i":386,"o":1.12210,"h":1.12230,"l":1.12208,"c":1.12220},
{"i":387,"o":1.12230,"h":1.12232,"l":1.12208,"c":1.12210},
{"i":388,"o":1.12200,"h":1.12202,"l":1.12188,"c":1.12190},
{"i":389,"o":1.12180,"h":1.12190,"l":1.12150,"c":1.12170},
{"i":390,"o":1.12180,"h":1.12182,"l":1.12160,"c":1.12180},
{"i":391,"o":1.12190,"h":1.12192,"l":1.12160,"c":1.12180},
{"i":392,"o":1.12180,"h":1.12182,"l":1.12140,"c":1.12150},
{"i":393,"o":1.12140,"h":1.12160,"l":1.12130,"c":1.12140},
{"i":394,"o":1.12150,"h":1.12152,"l":1.12044,"c":1.12046},
{"i":395,"o":1.12060,"h":1.12100,"l":1.12050,"c":1.12090},
{"i":396,"o":1.12080,"h":1.12132,"l":1.12078,"c":1.12130},
{"i":397,"o":1.12150,"h":1.12152,"l":1.12120,"c":1.12130},
{"i":398,"o":1.12140,"h":1.12150,"l":1.12120,"c":1.12140},
{"i":399,"o":1.12150,"h":1.12200,"l":1.12148,"c":1.12170},
{"i":400,"o":1.12180,"h":1.12182,"l":1.12148,"c":1.12150},
{"i":401,"o":1.12140,"h":1.12190,"l":1.12138,"c":1.12170},
{"i":402,"o":1.12160,"h":1.12162,"l":1.12148,"c":1.12150},
{"i":403,"o":1.12140,"h":1.12180,"l":1.12110,"c":1.12160},
{"i":404,"o":1.12170,"h":1.12172,"l":1.12118,"c":1.12120},
{"i":405,"o":1.12130,"h":1.12160,"l":1.12100,"c":1.12150},
{"i":406,"o":1.12140,"h":1.12162,"l":1.12138,"c":1.12160},
{"i":407,"o":1.12150,"h":1.12162,"l":1.12148,"c":1.12160},
{"i":408,"o":1.12150,"h":1.12172,"l":1.12148,"c":1.12170},
{"i":409,"o":1.12160,"h":1.12202,"l":1.12158,"c":1.12200},
{"i":410,"o":1.12200,"h":1.12202,"l":1.12178,"c":1.12180},
{"i":411,"o":1.12180,"h":1.12182,"l":1.12158,"c":1.12160},
{"i":412,"o":1.12170,"h":1.12182,"l":1.12168,"c":1.12180},
{"i":413,"o":1.12170,"h":1.12182,"l":1.12168,"c":1.12180},
{"i":414,"o":1.12170,"h":1.12180,"l":1.12150,"c":1.12170},
{"i":415,"o":1.12160,"h":1.12200,"l":1.12140,"c":1.12190},
{"i":416,"o":1.12200,"h":1.12260,"l":1.12190,"c":1.12220},
{"i":417,"o":1.12230,"h":1.12240,"l":1.12080,"c":1.12120},
{"i":418,"o":1.12130,"h":1.12132,"l":1.12030,"c":1.12090},
{"i":419,"o":1.12090,"h":1.12092,"l":1.11900,"c":1.11910},
{"i":420,"o":1.11900,"h":1.11902,"l":1.11670,"c":1.11760},
{"i":421,"o":1.11750,"h":1.11812,"l":1.11700,"c":1.11810},
{"i":422,"o":1.11820,"h":1.11850,"l":1.11810,"c":1.11840},
{"i":423,"o":1.11850,"h":1.11852,"l":1.11800,"c":1.11810},
{"i":424,"o":1.11820,"h":1.11900,"l":1.11790,"c":1.11870},
{"i":425,"o":1.11880,"h":1.11882,"l":1.11840,"c":1.11850},
{"i":426,"o":1.11850,"h":1.11852,"l":1.11810,"c":1.11820},
{"i":427,"o":1.11830,"h":1.11832,"l":1.11740,"c":1.11790},
{"i":428,"o":1.11780,"h":1.11840,"l":1.11778,"c":1.11800},
{"i":429,"o":1.11790,"h":1.11822,"l":1.11770,"c":1.11820},
{"i":430,"o":1.11810,"h":1.11812,"l":1.11740,"c":1.11770},
{"i":431,"o":1.11770,"h":1.11800,"l":1.11720,"c":1.11770},
{"i":432,"o":1.11770,"h":1.11782,"l":1.11768,"c":1.11780},
{"i":433,"o":1.11770,"h":1.11772,"l":1.11738,"c":1.11740},
{"i":434,"o":1.11750,"h":1.11752,"l":1.11629,"c":1.11639},
{"i":435,"o":1.11629,"h":1.11672,"l":1.11619,"c":1.11670},
{"i":436,"o":1.11680,"h":1.11740,"l":1.11678,"c":1.11720},
{"i":437,"o":1.11710,"h":1.11730,"l":1.11708,"c":1.11720},
{"i":438,"o":1.11730,"h":1.11750,"l":1.11597,"c":1.11599},
{"i":439,"o":1.11589,"h":1.11609,"l":1.11519,"c":1.11589},
{"i":440,"o":1.11599,"h":1.11619,"l":1.11569,"c":1.11579},
{"i":441,"o":1.11589,"h":1.11672,"l":1.11559,"c":1.11670},
{"i":442,"o":1.11659,"h":1.11752,"l":1.11649,"c":1.11750},
{"i":443,"o":1.11760,"h":1.11900,"l":1.11758,"c":1.11880},
{"i":444,"o":1.11890,"h":1.12170,"l":1.11888,"c":1.12140},
{"i":445,"o":1.12150,"h":1.12170,"l":1.12090,"c":1.12150},
{"i":446,"o":1.12160,"h":1.12200,"l":1.12078,"c":1.12080},
{"i":447,"o":1.12090,"h":1.12092,"l":1.12020,"c":1.12040},
{"i":448,"o":1.12046,"h":1.12162,"l":1.12040,"c":1.12160},
{"i":449,"o":1.12150,"h":1.12210,"l":1.12120,"c":1.12150},
{"i":450,"o":1.12160,"h":1.12460,"l":1.12158,"c":1.12380},
{"i":451,"o":1.12390,"h":1.12460,"l":1.12388,"c":1.12410},
{"i":452,"o":1.12400,"h":1.12500,"l":1.12330,"c":1.12380},
{"i":453,"o":1.12390,"h":1.12392,"l":1.12330,"c":1.12350},
{"i":454,"o":1.12360,"h":1.12430,"l":1.12358,"c":1.12370},
{"i":455,"o":1.12380,"h":1.12382,"l":1.12310,"c":1.12320},
{"i":456,"o":1.12310,"h":1.12440,"l":1.12308,"c":1.12390}
],
"seps": [{"i":91},{"i":187},{"i":283},{"i":379}],
"hthin": [{"i":-2,"i2":460,"p":1.12770}],
"hthick": [
{"i":-2,"i2":90.1,"p":1.125435},
{"i":91.9,"i2":187,"p":1.124276},
{"i":-2,"i2":460,"p":1.121939},
{"i":187,"i2":283,"p":1.121541},
{"i":283,"i2":379,"p":1.12204},
{"i":381.2,"i2":460,"p":1.121694}
],
"dashed": [
{"i":101.6,"i2":146.6,"p":1.125261,"p2":1.125311},
{"i":96.2,"i2":138.7,"p":1.123816,"p2":1.123864},
{"i":366.6,"i2":416.6,"p":1.122476,"p2":1.122504},
{"i":363.7,"i2":415.3,"p":1.12038,"p2":1.120412}
],
"arrows": [
{"i":145.5,"i2":146.75,"p":1.12369,"p2":1.12069},
{"i":413.9,"i2":415.0,"p":1.12138,"p2":1.11754}
],
"curves": [
{"g":"up","k":0,"i":131.0,"p":1.12536},
{"g":"up","k":1,"i":131.35,"p":1.12556},
{"g":"up","k":2,"i":131.75,"p":1.12575},
{"g":"up","k":3,"i":132.0,"p":1.12590},
{"g":"up","k":4,"i":132.5,"p":1.12581},
{"g":"up","k":5,"i":133.0,"p":1.12569},
{"g":"up","k":6,"i":133.68,"p":1.12553},
{"g":"up","k":7,"i":134.5,"p":1.12534},
{"g":"down","k":0,"i":134.9,"p":1.12366},
{"g":"down","k":1,"i":135.75,"p":1.12357},
{"g":"down","k":2,"i":136.6,"p":1.12344},
{"g":"down","k":3,"i":137.25,"p":1.12335},
{"g":"down","k":4,"i":137.85,"p":1.12345},
{"g":"down","k":5,"i":138.85,"p":1.12357},
{"g":"down","k":6,"i":139.9,"p":1.12366}
],
"labels": [
{"i":34.9,"p":1.125061,"t":"3225"},
{"i":157.0,"p":1.125236,"t":"3519"},
{"i":128.9,"p":1.122289,"t":"1867"},
{"i":220.9,"p":1.121336,"t":"9440"},
{"i":325.8,"p":1.121696,"t":"6300"},
{"i":430.8,"p":1.12132,"t":"6142"}
],
"symbol": [{"i":4.4,"p":1.128831,"t":"EURUSD,M15"}],
"symbolmark": [{"i":1.85,"p":1.12886}],
"question": [{"i":333.7,"p":1.12235,"t":"?"}],
"box": [{"i":320.9,"i2":345.9,"p":1.122663,"p2":1.121317}],
"indicator": [{"i":0.7,"v":-8994681,"t":"v.3.0 VSA <CME> 1096"}]
},
"vconcat": [
{
"width": 1826,
"height": 804,
"encoding": {"x": {"field": "i", "type": "quantitative", "scale": {"domain": [-0.125, 456.375], "nice": false, "zero": false}, "axis": null}},
"layer": [
{"data": {"name": "seps"}, "mark": {"type": "rule", "color": "#000000", "strokeWidth": 1, "strokeDash": [3, 2]}, "encoding": {}},
{"data": {"name": "bars"}, "mark": {"type": "rule", "strokeWidth": 1},
 "encoding": {
  "y": {"field": "l", "type": "quantitative", "scale": {"domain": [1.11399, 1.129018], "nice": false, "zero": false},
        "axis": {"orient": "right", "values": [1.1145,1.1155,1.1165,1.1175,1.1185,1.1195,1.1205,1.1215,1.1225,1.1235,1.1245,1.1255,1.1265,1.1275,1.1285], "format": ".4f", "tickSize": 4, "labelPadding": 3, "ticks": true, "domain": false, "grid": false, "title": null, "labelFlush": false, "labelOverlap": false, "labelFont": "DejaVu Sans", "labelFontSize": 11, "labelColor": "#000000", "tickColor": "#000000"}},
  "y2": {"field": "h"},
  "color": {"condition": [{"test": "datum.c > datum.o", "value": "#008000"}, {"test": "datum.c < datum.o", "value": "#ff0000"}], "value": "#000000"}
 }},
{"data": {"name": "symbol"}, "mark": {"type": "text", "font": "DejaVu Sans", "fontSize": 11, "color": "#000000", "align": "left", "baseline": "middle"},
 "encoding": {"y": {"field": "p", "type": "quantitative", "scale": {"domain": [1.11399, 1.129018], "nice": false, "zero": false}}, "text": {"field": "t"}}},
{"data": {"name": "symbolmark"}, "mark": {"type": "point", "shape": "triangle-down", "filled": true, "size": 22, "color": "#000000", "opacity": 1},
 "encoding": {"y": {"field": "p", "type": "quantitative", "scale": {"domain": [1.11399, 1.129018], "nice": false, "zero": false}}}},
{"data": {"name": "labels"}, "mark": {"type": "text", "font": "Liberation Sans", "fontSize": 17, "color": "#000000", "align": "center", "baseline": "middle"},
 "encoding": {"y": {"field": "p", "type": "quantitative", "scale": {"domain": [1.11399, 1.129018], "nice": false, "zero": false}}, "text": {"field": "t"}}},
{"data": {"name": "bars"}, "transform": [{"filter": "datum.o != datum.c"}], "mark": {"type": "bar", "width": 3, "orient": "vertical"},
 "encoding": {
  "y": {"field": "o", "type": "quantitative", "scale": {"domain": [1.11399, 1.129018], "nice": false, "zero": false}},
  "y2": {"field": "c"},
  "color": {"condition": {"test": "datum.c > datum.o", "value": "#008000"}, "value": "#ff0000"}
 }},
{"data": {"name": "bars"}, "transform": [{"filter": "datum.o == datum.c"}], "mark": {"type": "tick", "orient": "horizontal", "size": 3, "thickness": 1, "color": "#000000"},
 "encoding": {"y": {"field": "c", "type": "quantitative", "scale": {"domain": [1.11399, 1.129018], "nice": false, "zero": false}}}},
{"data": {"name": "hthin"}, "mark": {"type": "rule", "color": "#000000", "strokeWidth": 1, "clip": true},
 "encoding": {"x2": {"field": "i2"}, "y": {"field": "p", "type": "quantitative", "scale": {"domain": [1.11399, 1.129018], "nice": false, "zero": false}}}},
{"data": {"name": "hthick"}, "mark": {"type": "rule", "color": "#000000", "strokeWidth": 2, "clip": true},
 "encoding": {"x2": {"field": "i2"}, "y": {"field": "p", "type": "quantitative", "scale": {"domain": [1.11399, 1.129018], "nice": false, "zero": false}}}},
{"data": {"name": "dashed"}, "mark": {"type": "rule", "color": "#383838", "strokeWidth": 3, "strokeDash": [8, 4]},
 "encoding": {"x2": {"field": "i2"}, "y": {"field": "p", "type": "quantitative", "scale": {"domain": [1.11399, 1.129018], "nice": false, "zero": false}}, "y2": {"field": "p2"}}},
{"data": {"name": "arrows"}, "mark": {"type": "rule", "color": "#111111", "strokeWidth": 1.5},
 "encoding": {"x2": {"field": "i2"}, "y": {"field": "p", "type": "quantitative", "scale": {"domain": [1.11399, 1.129018], "nice": false, "zero": false}}, "y2": {"field": "p2"}}},
{"data": {"name": "arrows"}, "mark": {"type": "point", "shape": "triangle-down", "filled": true, "size": 50, "color": "#111111", "opacity": 1},
 "encoding": {"x": {"field": "i2", "type": "quantitative", "scale": {"domain": [-0.125, 456.375], "nice": false, "zero": false}, "axis": null}, "y": {"field": "p2", "type": "quantitative", "scale": {"domain": [1.11399, 1.129018], "nice": false, "zero": false}}}},
{"data": {"name": "arrows"}, "mark": {"type": "point", "shape": "circle", "filled": true, "size": 12, "color": "#111111", "opacity": 1},
 "encoding": {"y": {"field": "p", "type": "quantitative", "scale": {"domain": [1.11399, 1.129018], "nice": false, "zero": false}}}},
{"data": {"name": "curves"}, "mark": {"type": "line", "color": "#111111", "strokeWidth": 1.5},
 "encoding": {"y": {"field": "p", "type": "quantitative", "scale": {"domain": [1.11399, 1.129018], "nice": false, "zero": false}}, "detail": {"field": "g"}, "order": {"field": "k", "type": "quantitative"}}},
{"data": {"name": "box"}, "mark": {"type": "rect", "fillOpacity": 0, "stroke": "#1414ff", "strokeWidth": 2, "cornerRadius": 20},
 "encoding": {"x2": {"field": "i2"}, "y": {"field": "p", "type": "quantitative", "scale": {"domain": [1.11399, 1.129018], "nice": false, "zero": false}}, "y2": {"field": "p2"}}},
{"data": {"name": "question"}, "mark": {"type": "text", "font": "Liberation Sans", "fontSize": 18, "color": "#1414ff", "align": "center", "baseline": "middle"},
 "encoding": {"y": {"field": "p", "type": "quantitative", "scale": {"domain": [1.11399, 1.129018], "nice": false, "zero": false}}, "text": {"field": "t"}}}
]
},
{
"width": 1826,
"height": 55,
"encoding": {"x": {"field": "i", "type": "quantitative", "scale": {"domain": [-0.125, 456.375], "nice": false, "zero": false},
   "axis": {"orient": "bottom", "values": [0,20,40,60,80,100,120,140,160,180,200,220,240,260,280,300,320,340,360,380,400,420,440], "labelExpr": "['26 Sep 2016','26 Sep 06:15','26 Sep 11:15','26 Sep 16:15','26 Sep 21:15','27 Sep 02:15','27 Sep 07:15','27 Sep 12:15','27 Sep 17:15','27 Sep 22:15','28 Sep 03:15','28 Sep 08:15','28 Sep 13:15','28 Sep 18:15','28 Sep 23:15','29 Sep 04:15','29 Sep 09:15','29 Sep 14:15','29 Sep 19:15','30 Sep 00:15','30 Sep 05:15','30 Sep 10:15','30 Sep 15:15'][round(datum.value/20)]", "tickSize": 4, "ticks": true, "domain": false, "grid": false, "title": null, "labelAlign": "left", "labelBaseline": "top", "labelPadding": 1, "labelOffset": 1, "labelFlush": false, "labelOverlap": false, "labelFont": "DejaVu Sans", "labelFontSize": 11, "labelColor": "#000000", "tickColor": "#000000"}}},
"layer": [
{"data": {"name": "seps"}, "mark": {"type": "rule", "color": "#000000", "strokeWidth": 1, "strokeDash": [3, 2]}, "encoding": {}},
{"data": {"name": "indicator"}, "mark": {"type": "text", "font": "DejaVu Sans", "fontSize": 10.5, "color": "#000000", "align": "left", "baseline": "middle"},
 "encoding": {
   "y": {"field": "v", "type": "quantitative", "scale": {"domain": [-11950798, 1945479], "reverse": true, "nice": false, "zero": false},
   "axis": {"orient": "right", "values": [-9500000, 0], "format": "d", "ticks": false, "domain": false, "grid": false, "title": null, "labelPadding": 2, "labelFlush": false, "labelOverlap": false, "labelFont": "DejaVu Sans", "labelFontSize": 11, "labelColor": "#000000"}},
   "text": {"field": "t"}}}
]
}
]
}
